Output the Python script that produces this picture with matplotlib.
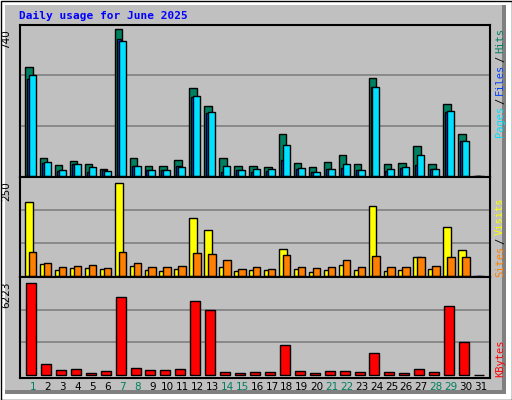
import matplotlib
matplotlib.use("Agg")
import matplotlib.pyplot as plt
from matplotlib.patches import Rectangle

days = list(range(1, 32))
weekend = [1, 7, 8, 14, 15, 21, 22, 28, 29]

hits = [549, 91, 55, 76, 60, 35, 740, 91, 50, 50, 80, 443, 352, 91, 50, 50,
        45, 211, 65, 45, 70, 106, 60, 493, 60, 65, 151, 60, 362, 211, 0]
files = [488, 65, 25, 60, 20, 30, 690, 50, 30, 30, 50, 397, 316, 20, 30, 20,
         25, 80, 35, 20, 35, 40, 30, 448, 25, 40, 55, 35, 322, 176, 0]
pages = [508, 70, 30, 60, 45, 25, 680, 50, 30, 30, 45, 403, 322, 50, 30, 35,
         35, 156, 40, 20, 35, 60, 30, 448, 35, 45, 106, 35, 327, 176, 0]
visits = [198, 33, 16, 22, 22, 19, 250, 27, 16, 14, 19, 155, 125, 24, 14, 16,
          16, 73, 19, 11, 16, 30, 16, 188, 14, 16, 52, 19, 133, 71, 0]
sites = [65, 35, 24, 27, 30, 22, 65, 35, 24, 24, 27, 63, 60, 43, 19, 24,
         19, 57, 24, 22, 24, 43, 24, 54, 24, 24, 52, 27, 52, 52, 0]
kbytes = [6223, 752, 342, 410, 137, 274, 5266, 479, 342, 342, 410, 4993, 4378,
          205, 137, 205, 205, 2052, 274, 137, 274, 274, 205, 1505, 205, 137,
          410, 205, 4651, 2257, 0]

GREY = "#c0c0c0"
W, H = 512, 400
fig = plt.figure(figsize=(W / 100, H / 100), dpi=100)
fig.patch.set_facecolor("white")

def px(x, y, w, h):
    # pixel box (top-left origin) -> figure fraction rect
    return [x / W, 1 - (y + h) / H, w / W, h / H]

def frect(x, y, w, h, **kw):
    r = Rectangle((x / W, 1 - (y + h) / H), w / W, h / H,
                  transform=fig.transFigure, zorder=-10, **kw)
    fig.patches.append(r)

# outer frame with 3D shading
frect(0.5, 0.5, 511, 399, facecolor="white", edgecolor="black", lw=1)
frect(5, 5, 501, 389, facecolor="#808080", edgecolor="none")
frect(5, 5, 497, 385, facecolor=GREY, edgecolor="none")

fig.text(19 / W, 1 - 16 / H, "Daily usage for June 2025", color="#0000ff",
         family="DejaVu Sans Mono", weight="bold", fontsize=8, va="center")

xlim = (0.13, 31.6)

def panel(rect, ymax_label, ymin_axis, ymax_axis):
    ax = fig.add_axes(px(*rect))
    ax.set_facecolor(GREY)
    ax.set_xlim(*xlim)
    ax.set_ylim(ymin_axis, ymax_axis)
    for f in (1 / 3, 2 / 3):
        ax.axhline(ymax_axis * f, color="#808080", lw=1.2, zorder=0)
    ax.set_xticks([])
    ax.set_yticks([])
    for s in ax.spines.values():
        s.set_linewidth(1.5)
    ax.text(-0.018, 1 - 4 / rect[3], str(ymax_label), transform=ax.transAxes,
            rotation=90, ha="right", va="top", fontsize=7.5,
            family="DejaVu Sans")
    return ax

bar_kw = dict(edgecolor="black", linewidth=1, align="edge")

ax1 = panel((20, 25, 470, 152), 740, -740 / 147, 740 * 151 / 147)
ax1.bar([d - 0.53 for d in days], hits, 0.5, color="#008060", **bar_kw)
ax1.bar([d - 0.4 for d in days], files, 0.3, color="#0040ff", **bar_kw)
ax1.bar([d - 0.27 for d in days], pages, 0.47, color="#00e0ff", **bar_kw)

ax2 = panel((20, 177, 470, 100), 250, -250 / 92, 250 * 98 / 92)
ax2.bar([d - 0.53 for d in days], visits, 0.53, color="#ffff00", **bar_kw)
ax2.bar([d - 0.27 for d in days], sites, 0.5, color="#ff8000", **bar_kw)

ax3 = panel((20, 277, 470, 101), 6223, -6223 * 3 / 91, 6223 * 97 / 91)
ax3.bar([d - 0.47 for d in days], kbytes, 0.67, color="#ff0000", **bar_kw)

for d in days:
    ax3.text(d, -0.09, str(d), transform=ax3.get_xaxis_transform(),
             ha="center", va="center", fontsize=7.5, family="DejaVu Sans",
             color="#008060" if d in weekend else "black")

def side_label(parts, y_bottom):
    y = y_bottom
    for txt, col, h in parts:
        fig.text(500 / W, 1 - y / H, txt, color=col, rotation=90,
                 ha="center", va="bottom", fontsize=7.5,
                 family="DejaVu Sans Mono")
        y -= h

side_label([("Pages", "#00e0ff", 33), ("/", "black", 9), ("Files", "#0040ff", 33),
            ("/", "black", 9), ("Hits", "#008060", 27)], 137)
side_label([("Sites", "#ff8000", 33), ("/", "black", 9), ("Visits", "#ffff00", 38)], 277)
side_label([("KBytes", "#ff0000", 38)], 377)

fig.savefig("out.png", dpi=100, facecolor="white")
